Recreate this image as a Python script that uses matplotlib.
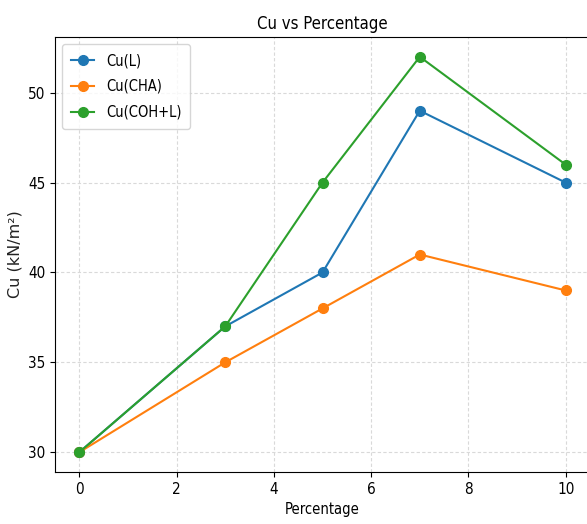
import numpy as np
import matplotlib.pyplot as plt

percentage = [0, 3, 5, 7, 10]
cu_l = [30, 37, 40, 49, 45]
cu_cha = [30, 35, 38, 41, 39]
cu_coh_l = [30, 37, 45, 52, 46]

plt.rcParams['font.family'] = ['DejaVu Sans']
plt.rcParams['font.stretch'] = 'condensed'

fig = plt.figure(figsize=(5.87, 5.24), dpi=100)
ax = fig.add_axes([55/587, 52/524, 535/587, 435/524])

ax.plot(percentage, cu_l, marker="o", markersize=7, label="Cu(L)")
ax.plot(percentage, cu_cha, marker="o", markersize=7, label="Cu(CHA)")
ax.plot(percentage, cu_coh_l, marker="o", markersize=7, label="Cu(COH+L)")

ax.set_title("Cu vs Percentage", fontsize=12)
ax.set_xlabel("Percentage", fontsize=10.5)
ax.set_ylabel("Cu (kN/m²)", fontsize=11.5, fontstretch='normal', color='#222222')
ax.tick_params(labelsize=11)
ax.grid(True, linestyle=(0, (3, 2)), linewidth=0.8, color='#d9d9d9')
ax.legend(loc="upper left", fontsize=10.5, handlelength=1.6,
          labelspacing=0.75, borderpad=0.6)

fig.savefig("out.png", dpi=100)
